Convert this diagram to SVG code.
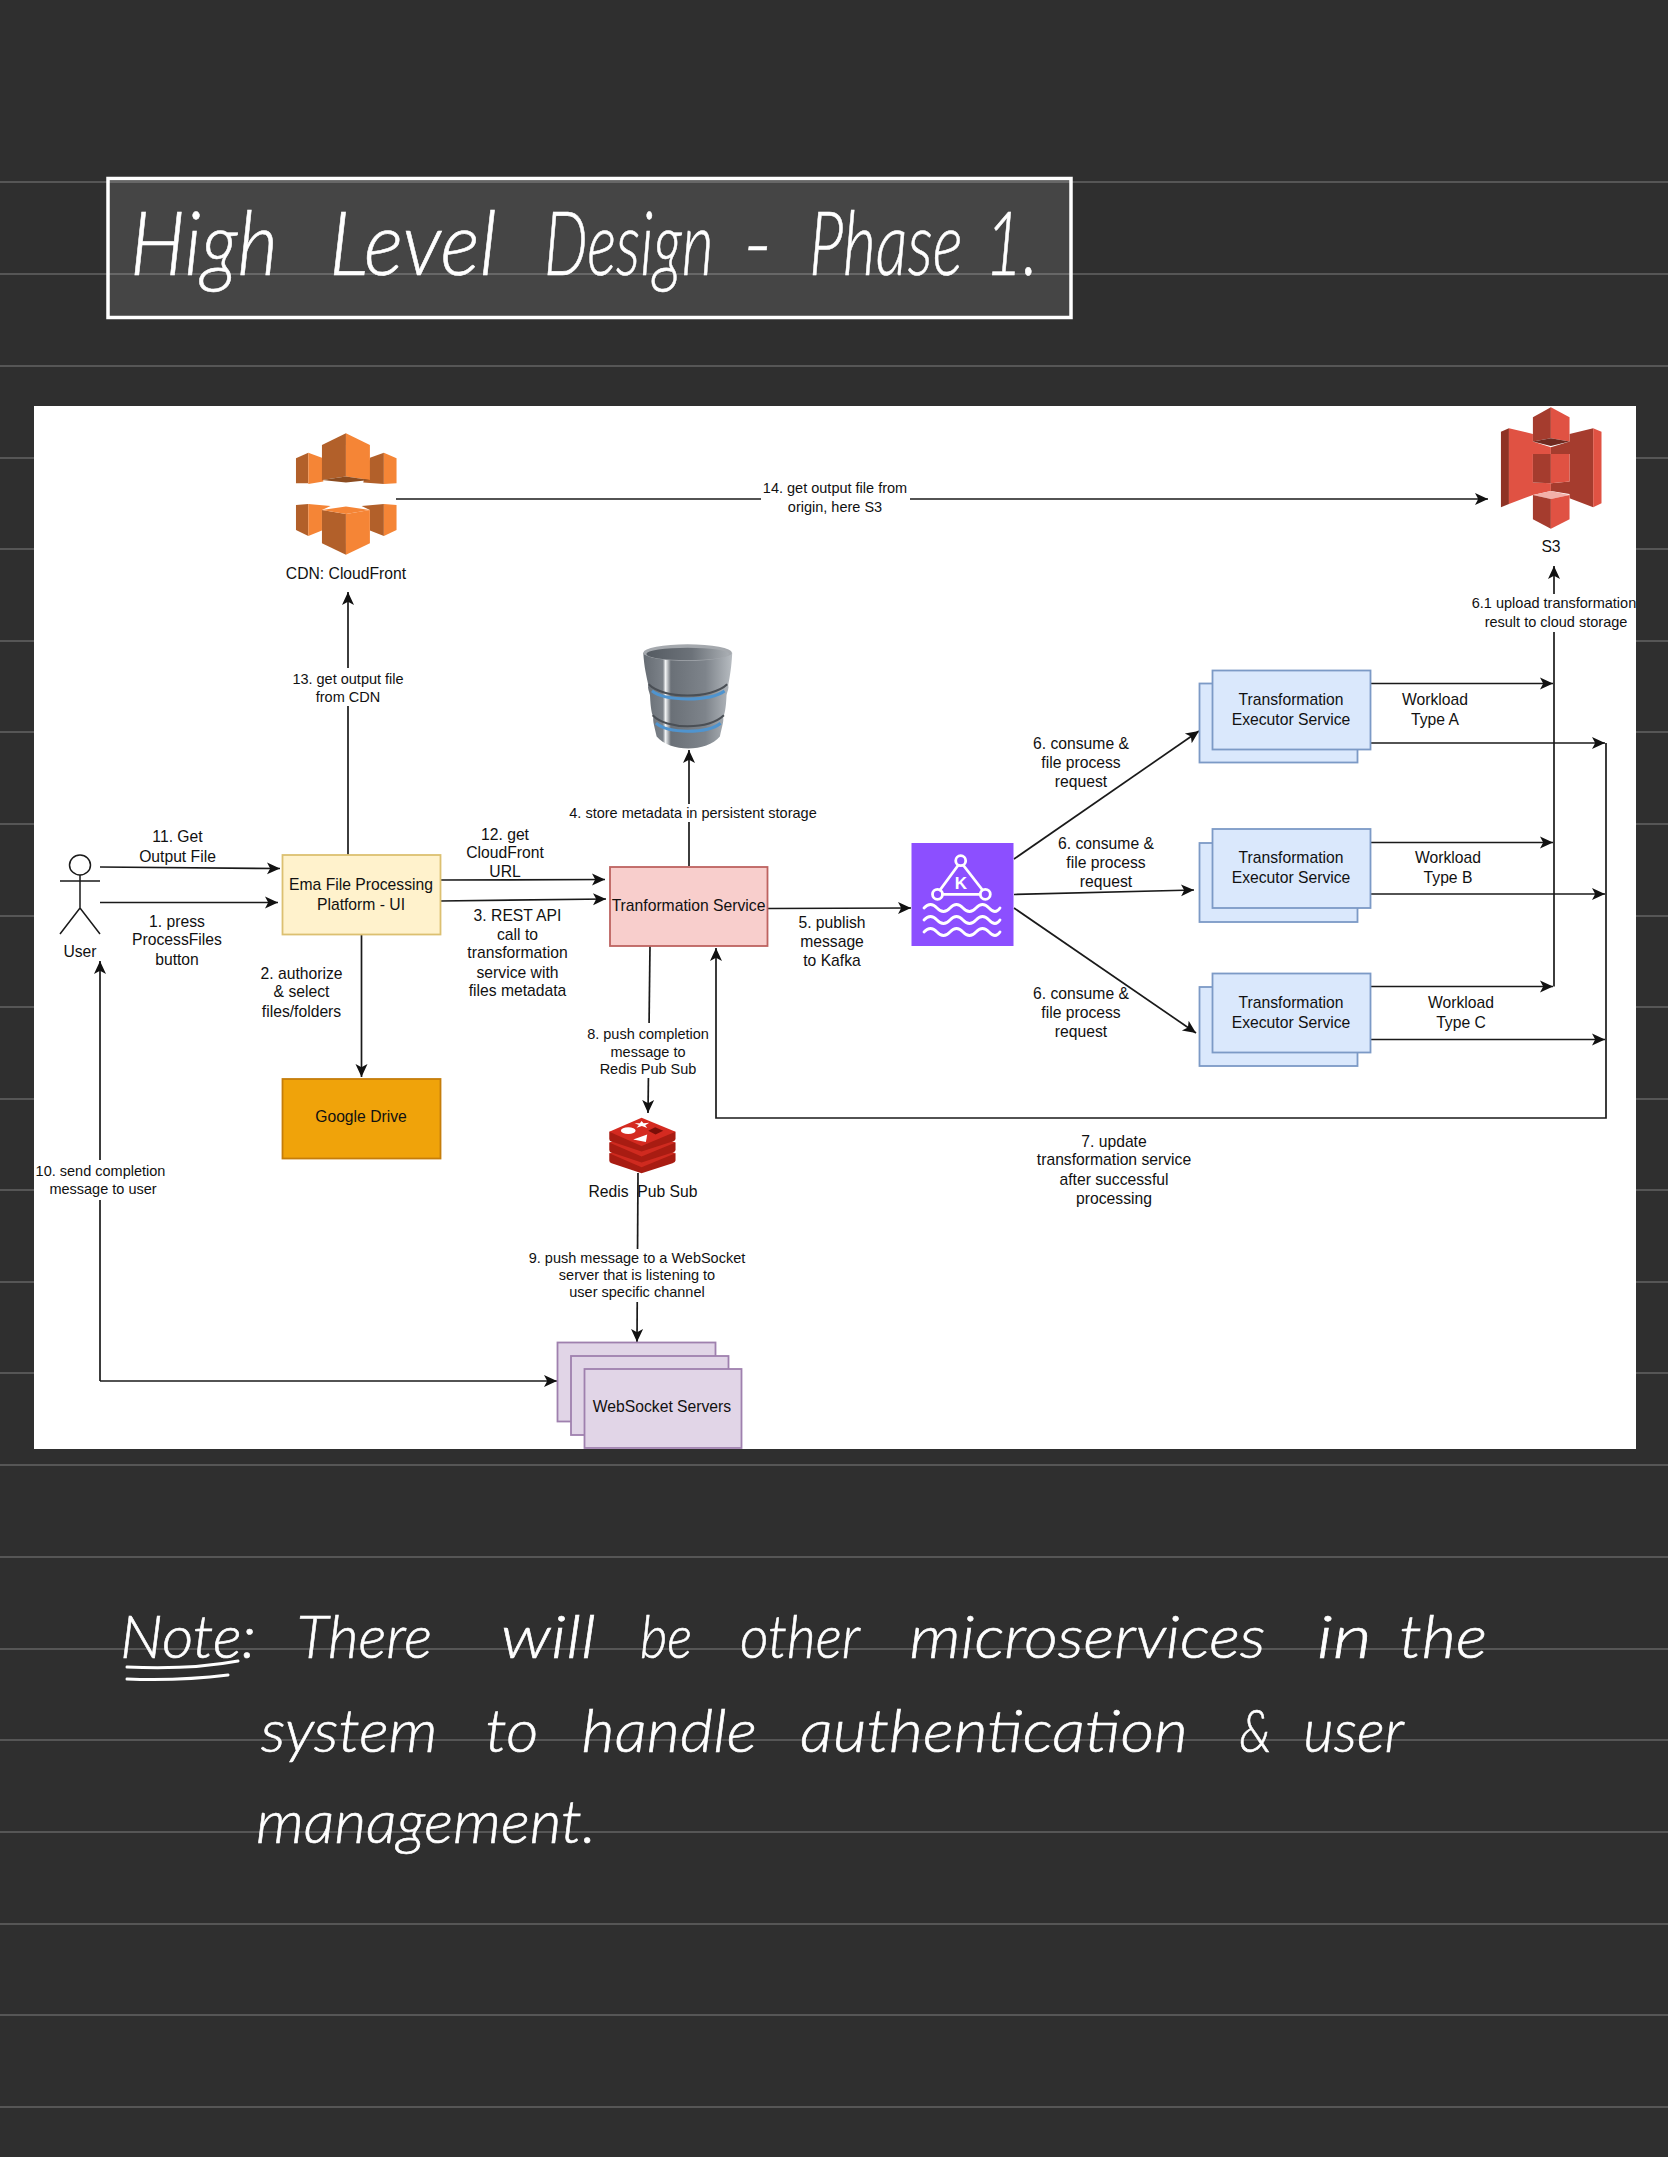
<svg xmlns="http://www.w3.org/2000/svg" width="1668" height="2157" viewBox="0 0 1668 2157">
<style>
text{font-family:"Liberation Sans",Arial,sans-serif;fill:#111;text-anchor:middle}
.n{font-size:15.7px}
.e{font-size:14.5px}
.m{font-size:15.7px}
.hw{font-family:"Lato","Open Sans",sans-serif;font-weight:300;font-style:italic;fill:#fff;text-anchor:start;stroke:#fff;stroke-width:.6}
.rule{stroke:#565656;stroke-width:2}
.c{fill:none;stroke:#1a1a1a;stroke-width:1.7;marker-end:url(#a)}
.lbg{fill:#fff}
.blue{fill:#dae8fc;stroke:#7c9ac6;stroke-width:1.8}
.pur{fill:#e1d5e7;stroke:#9f80ae;stroke-width:1.8}
</style>
<defs>
<marker id="a" markerUnits="userSpaceOnUse" markerWidth="14" markerHeight="14" refX="13" refY="7" orient="auto" viewBox="0 0 14 14"><path d="M13 7 0 1 3.200 7 0 13Z" fill="#111"/></marker>
<linearGradient id="dbg" x1="0" x2="1" y1="0" y2="0"><stop offset="0" stop-color="#666c73"/><stop offset=".22" stop-color="#7c8289"/><stop offset=".25" stop-color="#f2f4f5"/><stop offset=".31" stop-color="#6a7077"/><stop offset=".7" stop-color="#7e848b"/><stop offset="1" stop-color="#b7bcc1"/></linearGradient>
<linearGradient id="dbt" x1="0" x2="1" y1="0" y2="0"><stop offset="0" stop-color="#555b62"/><stop offset=".55" stop-color="#6c7279"/><stop offset="1" stop-color="#a9aeb3"/></linearGradient>
</defs>
<rect width="1668" height="2157" fill="#2f2f2f"/>
<g id="rules">
<path class="rule" d="M0 182H1668M0 274H1668M0 366H1668M0 458H1668M0 549H1668M0 641H1668M0 732H1668M0 824H1668M0 916H1668M0 1007H1668M0 1099H1668M0 1190H1668M0 1282H1668M0 1373H1668M0 1465H1668M0 1557H1668M0 1649H1668M0 1740H1668M0 1832H1668M0 1924H1668M0 2015H1668M0 2107H1668"/>
</g>
<g id="title">
<rect x="108" y="178.500" width="963" height="139" fill="#fff" fill-opacity=".105" stroke="#fff" stroke-width="3.500"/>
<text class="hw" y="275" font-size="88" transform="scale(.8 1)"><tspan x="162.500" textLength="185" lengthAdjust="spacingAndGlyphs">High</tspan> <tspan x="411.250" textLength="210" lengthAdjust="spacingAndGlyphs">Level</tspan> <tspan x="680" textLength="212" lengthAdjust="spacingAndGlyphs">Design</tspan> <tspan x="928.750" textLength="37" lengthAdjust="spacingAndGlyphs">-</tspan> <tspan x="1011.250" textLength="192" lengthAdjust="spacingAndGlyphs">Phase</tspan> <tspan x="1231.250" textLength="66" lengthAdjust="spacingAndGlyphs">1.</tspan></text>
</g>
<rect id="panel" x="34" y="406" width="1602" height="1043" fill="#fff"/>
<g id="connectors">
<path class="c" d="M396 499H1488"/>
<path class="c" d="M348 855V592"/>
<path class="c" d="M100 867 280 868.500"/>
<path class="c" d="M100 902.500H278"/>
<path class="c" d="M440 880 605 879.500"/>
<path class="c" d="M440 901 606 899"/>
<path class="c" d="M361.500 934V1077"/>
<path class="c" d="M689 866V750"/>
<path class="c" d="M768 908.500 911 908"/>
<path class="c" d="M1014 859 1199 731"/>
<path class="c" d="M1014 894.500 1194 890"/>
<path class="c" d="M1014 908 1196 1033"/>
<path class="c" d="M1370 683.500H1553"/>
<path class="c" d="M1370 842.500H1553"/>
<path class="c" d="M1370 986.500H1553"/>
<path class="c" d="M1370 743H1605"/>
<path class="c" d="M1370 894H1605"/>
<path class="c" d="M1370 1039.500H1605"/>
<path class="c" d="M1554 986.500V566"/>
<path class="c" d="M1606 743V1118H716V948"/>
<path class="c" d="M650 946 648 1113"/>
<path class="c" d="M638 1173 637 1342"/>
<path class="c" d="M100 1381V961"/>
<path class="c" d="M100 1381H557"/>
</g>
<g id="edge-labels">
<rect class="lbg" x="761" y="478" width="149" height="38"/>
<text class="e" x="835" y="493">14. get output file from</text><text class="e" x="835" y="512">origin, here S3</text>
<rect class="lbg" x="285" y="668" width="126" height="38"/>
<text class="e" x="348" y="684">13. get output file</text><text class="e" x="348" y="702">from CDN</text>
<text class="m" x="177.500" y="842">11. Get</text><text class="m" x="177.500" y="862">Output File</text>
<text class="m" x="177" y="927">1. press</text><text class="m" x="177" y="945">ProcessFiles</text><text class="m" x="177" y="965">button</text>
<text class="m" x="301.500" y="979">2. authorize</text><text class="m" x="301.500" y="997">&amp; select</text><text class="m" x="301.500" y="1017">files/folders</text>
<text class="m" x="505" y="840">12. get</text><text class="m" x="505" y="858">CloudFront</text><text class="m" x="505" y="877">URL</text>
<text class="m" x="517.500" y="921">3. REST API</text><text class="m" x="517.500" y="940">call to</text><text class="m" x="517.500" y="958">transformation</text><text class="m" x="517.500" y="978">service with</text><text class="m" x="517.500" y="996">files metadata</text>
<rect class="lbg" x="568" y="804" width="250" height="18"/>
<text class="e" x="693" y="817.500">4. store metadata in persistent storage</text>
<text class="m" x="832" y="928">5. publish</text><text class="m" x="832" y="947">message</text><text class="m" x="832" y="966">to Kafka</text>
<text class="m" x="1081" y="749">6. consume &amp;</text><text class="m" x="1081" y="767.500">file process</text><text class="m" x="1081" y="787">request</text>
<text class="m" x="1106" y="849">6. consume &amp;</text><text class="m" x="1106" y="867.500">file process</text><text class="m" x="1106" y="887">request</text>
<text class="m" x="1081" y="999">6. consume &amp;</text><text class="m" x="1081" y="1017.500">file process</text><text class="m" x="1081" y="1037">request</text>
<text class="m" x="1435" y="705">Workload</text><text class="m" x="1435" y="725">Type A</text>
<text class="m" x="1448" y="863">Workload</text><text class="m" x="1448" y="883">Type B</text>
<text class="m" x="1461" y="1008">Workload</text><text class="m" x="1461" y="1028">Type C</text>
<rect class="lbg" x="1470" y="594" width="166" height="38"/>
<text class="e" x="1554" y="608">6.1 upload transformation</text><text class="e" x="1556" y="627">result to cloud storage</text>
<text class="m" x="1114" y="1147">7. update</text><text class="m" x="1114" y="1165">transformation service</text><text class="m" x="1114" y="1185">after successful</text><text class="m" x="1114" y="1204">processing</text>
<rect class="lbg" x="582" y="1023" width="132" height="55"/>
<text class="e" x="648" y="1039">8. push completion</text><text class="e" x="648" y="1057">message to</text><text class="e" x="648" y="1074">Redis Pub Sub</text>
<rect class="lbg" x="527" y="1249" width="220" height="53"/>
<text class="e" x="637" y="1263">9. push message to a WebSocket</text><text class="e" x="637" y="1280">server that is listening to</text><text class="e" x="637" y="1297">user specific channel</text>
<rect class="lbg" x="36" y="1160" width="130" height="40"/>
<text class="e" x="100.500" y="1176">10. send completion</text><text class="e" x="103" y="1194">message to user</text>
</g>
<g id="user" fill="none" stroke="#1a1a1a" stroke-width="1.500">
<ellipse cx="80" cy="865" rx="10.500" ry="10"/>
<path d="M80 875V908M60 881H100M60 934 80 908 100 934"/>
<text class="n" x="80" y="957" stroke="none">User</text>
</g>
<g id="ema"><rect x="282.500" y="855" width="158" height="79.500" fill="#fff2cc" stroke="#dcc071" stroke-width="1.800"/><text class="n" x="361" y="890">Ema File Processing</text><text class="n" x="361" y="910">Platform - UI</text></g>
<g id="google-drive"><rect x="282.500" y="1079" width="158" height="79.500" fill="#f0a30a" stroke="#c57d0a" stroke-width="1.800"/><text class="n" x="361" y="1122">Google Drive</text></g>
<g id="transformation-service"><rect x="610" y="867" width="157.500" height="79" fill="#f8cecc" stroke="#bd6360" stroke-width="1.800"/><text class="n" x="688.500" y="911">Tranformation Service</text></g>
<g id="kafka">
<rect x="911.500" y="843" width="102" height="103" fill="#8c4fff"/>
<g fill="none" stroke="#fff" stroke-width="2.800" stroke-linecap="round">
<path d="M958 865.500 940 890M963.500 865.500 982.500 890M942.500 894.300H980"/>
<circle cx="960.700" cy="860.700" r="5"/><circle cx="937.500" cy="894.300" r="5"/><circle cx="985.300" cy="894.300" r="5"/>
<path d="M924 908q6.500-7 13 0t13 0 13 0 13 0 13 0 11 0"/>
<path d="M924 920q6.500-7 13 0t13 0 13 0 13 0 13 0 11 0"/>
<path d="M924 932q6.500-7 13 0t13 0 13 0 13 0 13 0 11 0"/>
</g>
<text x="961" y="889" style="font-size:17px;font-weight:700;fill:#fff">K</text>
</g>
<g id="exec-a"><rect class="blue" x="1199.500" y="683.500" width="158" height="79"/><rect class="blue" x="1212.500" y="670.500" width="158" height="79"/><text class="n" x="1291" y="705">Transformation</text><text class="n" x="1291" y="725">Executor Service</text></g>
<g id="exec-b"><rect class="blue" x="1199.500" y="843" width="158" height="79"/><rect class="blue" x="1212.500" y="829" width="158" height="79"/><text class="n" x="1291" y="863">Transformation</text><text class="n" x="1291" y="883">Executor Service</text></g>
<g id="exec-c"><rect class="blue" x="1199.500" y="987" width="158" height="79"/><rect class="blue" x="1212.500" y="973.500" width="158" height="79"/><text class="n" x="1291" y="1008">Transformation</text><text class="n" x="1291" y="1028">Executor Service</text></g>
<g id="websocket-servers"><rect class="pur" x="557.500" y="1342.500" width="158" height="79"/><rect class="pur" x="571" y="1356" width="157.500" height="79"/><rect class="pur" x="584.500" y="1369" width="157" height="79"/><text class="n" x="662" y="1412">WebSocket Servers</text></g>
<g id="redis">
<g transform="translate(540 1090) scale(.333)">
<path d="M208 190V212Q208 218 215 220L305 250 398 220Q407 217 407 212V190Z" fill="#a81c12"/>
<path d="M208 190 305 152 407 190 305 232Z" fill="#cf2a1f"/>
<path d="M208 158V180Q208 186 215 188L305 218 398 188Q407 185 407 180V158Z" fill="#a81c12"/>
<path d="M208 158 305 120 407 158 305 200Z" fill="#cf2a1f"/>
<path d="M208 125V147Q208 153 215 155L305 185 398 155Q407 152 407 147V125Z" fill="#a81c12"/>
<path d="M208 125 305 83 407 125 305 168Z" fill="#d42a20"/>
<ellipse cx="265" cy="122" rx="22" ry="10" fill="#fff"/>
<path d="M305 93 311 100 328 98 316 106 322 114 306 108 290 113 297 105 284 100 300 100Z" fill="#fff"/>
<path d="M280 149 322 134 318 156Z" fill="#fff"/>
<path d="M325 122 346 112 370 122 347 134Z" fill="#7a0e08"/>
</g>
<text class="n" x="643" y="1197" xml:space="preserve">Redis  Pub Sub</text>
</g>
<g id="database">
<g transform="translate(620 630) scale(.333)">
<path d="M70 68C72 110 80 140 85 165 82 175 88 185 90 195 92 240 96 250 100 262 98 275 104 290 110 320 150 368 260 368 300 320 306 290 312 275 310 262 314 250 318 240 320 195 322 185 328 175 325 165 330 140 335 110 337 68Z" fill="url(#dbg)"/>
<ellipse cx="203" cy="68" rx="133" ry="25" fill="#a5a9ae"/>
<ellipse cx="203" cy="72" rx="124" ry="19" fill="url(#dbt)"/>
<path d="M86 163C130 208 275 208 322 163" fill="none" stroke="#4a4f55" stroke-width="6"/>
<path d="M96 183C135 215 270 215 314 183" fill="none" stroke="#4f94cf" stroke-width="9"/>
<path d="M98 256C140 300 265 300 312 256" fill="none" stroke="#4a4f55" stroke-width="6"/>
<path d="M108 280C145 312 262 312 302 280" fill="none" stroke="#4f94cf" stroke-width="9"/>
</g>
</g>
<g id="cloudfront">
<g transform="translate(270 420) scale(.333)">
<path d="M78 115 115 98V190L78 190Z" fill="#b2602a"/><path d="M115 98 160 115V185L115 192Z" fill="#f58536"/>
<path d="M300 113 342 98V192L280 188Z" fill="#b2602a"/><path d="M342 98 380 115V190L342 192Z" fill="#f58536"/>
<path d="M156 75 228 40V170L156 180Z" fill="#b2602a"/><path d="M228 40 300 75V180L228 170Z" fill="#f58536"/>
<path d="M156 180 228 170 300 180 228 188Z" fill="#8c4c20"/>
<path d="M78 255 115 252V348L78 330Z" fill="#b2602a"/><path d="M115 252 182 258 156 270V332L115 348Z" fill="#f58536"/>
<path d="M275 258 342 252V348L300 332V270Z" fill="#b2602a"/><path d="M342 252 380 255V330L342 348Z" fill="#f58536"/>
<path d="M156 270 228 282V405L156 370Z" fill="#b2602a"/><path d="M228 282 300 270V370L228 405Z" fill="#f58536"/>
<path d="M156 270 228 260 300 270 228 282Z" fill="#f58536"/>
</g>
<text class="n" x="346" y="579">CDN: CloudFront</text>
</g>
<g id="s3">
<g transform="translate(1440 390) scale(.333)">
<path d="M183 125 207 115V342L183 352Z" fill="#8f3325"/>
<path d="M207 115 279 132V155L333 172V192H279V278L333 280V303L279 315 207 342Z" fill="#e05243"/>
<path d="M333 172 389 155V132L460 115V352L389 325V312L333 303V280L389 275V192H333Z" fill="#a53c2e"/>
<path d="M460 115 485 125V340L460 352Z" fill="#e05243"/>
<path d="M279 192H333V280L279 278Z" fill="#a53c2e"/>
<path d="M333 192H389V275L333 280Z" fill="#e05243"/>
<path d="M279 82 333 52V145L279 155Z" fill="#a53c2e"/>
<path d="M333 52 389 82V155L333 145Z" fill="#e05243"/>
<path d="M279 155 333 145 389 155 333 168Z" fill="#6e2a20"/>
<path d="M279 315 333 303 389 315 333 327Z" fill="#f2b0a9"/>
<path d="M279 315 333 327V417L279 388Z" fill="#a53c2e"/>
<path d="M333 327 389 315V388L333 417Z" fill="#e05243"/>
</g>
<text class="n" x="1551" y="552">S3</text>
</g>
<g id="note">
<text class="hw" y="1658" font-size="60" transform="scale(.8 1)"><tspan x="150" textLength="170" lengthAdjust="spacingAndGlyphs">Note:</tspan> <tspan x="371" textLength="169" lengthAdjust="spacingAndGlyphs">There</tspan> <tspan x="626" textLength="119" lengthAdjust="spacingAndGlyphs">will</tspan> <tspan x="800" textLength="65" lengthAdjust="spacingAndGlyphs">be</tspan> <tspan x="925" textLength="150" lengthAdjust="spacingAndGlyphs">other</tspan> <tspan x="1137" textLength="445" lengthAdjust="spacingAndGlyphs">microservices</tspan> <tspan x="1646" textLength="69" lengthAdjust="spacingAndGlyphs">in</tspan> <tspan x="1749" textLength="110" lengthAdjust="spacingAndGlyphs">the</tspan></text>
<text class="hw" y="1752" font-size="60" transform="scale(.8 1)"><tspan x="326" textLength="221" lengthAdjust="spacingAndGlyphs">system</tspan> <tspan x="607" textLength="66" lengthAdjust="spacingAndGlyphs">to</tspan> <tspan x="727" textLength="219" lengthAdjust="spacingAndGlyphs">handle</tspan> <tspan x="1000" textLength="485" lengthAdjust="spacingAndGlyphs">authentication</tspan> <tspan x="1549" textLength="40" lengthAdjust="spacingAndGlyphs">&amp;</tspan> <tspan x="1629" textLength="126" lengthAdjust="spacingAndGlyphs">user</tspan></text>
<text class="hw" y="1843" font-size="60" transform="scale(.8 1)"><tspan x="320" textLength="425" lengthAdjust="spacingAndGlyphs">management.</tspan></text>
<path d="M127 1667Q190 1670 238 1661M127 1679Q180 1681 228 1675" fill="none" stroke="#fff" stroke-width="3" stroke-linecap="round"/>
</g>
</svg>
